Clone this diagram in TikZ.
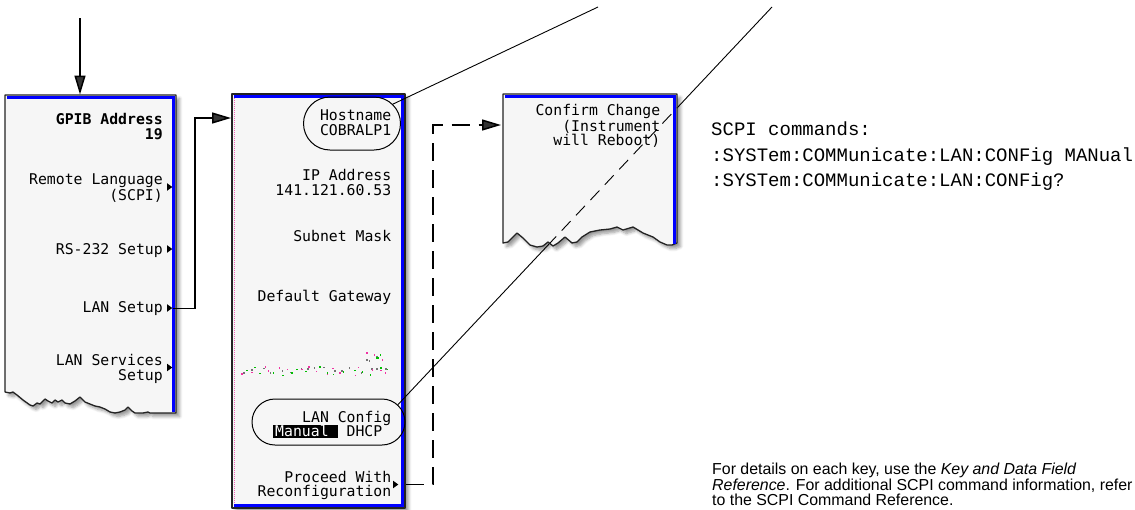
\documentclass[tikz,border=0pt]{standalone}
\usepackage{fontspec}
\setmainfont{Liberation Sans}
\newfontfamily\scrfont{DejaVu Sans Mono}
\newfontfamily\courfont{Liberation Mono}
\usetikzlibrary{arrows.meta,shapes.misc,shadows.blur}
\definecolor{panelbg}{RGB}{246,246,246}
\definecolor{scrblue}{RGB}{0,0,255}
\definecolor{frame}{RGB}{35,35,35}
\tikzset{
  panel/.style={fill=panelbg, draw=frame, line width=1.3pt, line join=round,
    blur shadow={shadow xshift=3.5pt, shadow yshift=-3.5pt, shadow blur steps=6, shadow blur radius=3pt}},
  blueline/.style={draw=scrblue, line width=2.2pt},
  skey/.style={font=\scrfont\fontsize{14.8}{14.3}\selectfont, anchor=base east, align=right, inner sep=0pt},
  skeyb/.style={font=\scrfont\bfseries\fontsize{14.8}{14.5}\selectfont, anchor=base east, align=right, inner sep=0pt},
  oval/.style={draw, rounded rectangle, line width=1pt, inner sep=0pt},
  conn/.style={line width=1.5pt, -{Triangle[length=19pt,width=11pt]}},
  dconn/.style={conn, dash pattern=on 18pt off 9pt},
  callout/.style={line width=0.9pt},
  softtri/.pic={\fill (-2.5,-3.8) -- (2.8,0) -- (-2.5,3.8) -- cycle;},
}
\begin{document}
\begin{tikzpicture}[x=1pt,y=-1pt]
\useasboundingbox (0,0) rectangle (1135,509);

% ---------- middle panel ----------
\path[panel] (232,94) rectangle (405,508);
\draw[blueline] (233.5,96.5) -- (402.5,96.5) -- (402.5,505.5) -- (233.5,505.5);
\draw[magenta!60, line width=0.8pt, dash pattern=on 1pt off 1pt] (234.3,98) -- (234.3,504);

% ---------- left panel ----------
\path[panel] (5,95) -- (176,95) -- (176,413) -- (150,413) -- (148,412) -- (143,413) -- (135,413)
  -- (132,411) -- (128,407) -- (125,410) -- (120,412) -- (115,413) -- (110,412) -- (105,409)
  -- (100,407) -- (95,406) -- (90,404) -- (85,402) -- (80,397) -- (75,401) -- (70,404)
  -- (65,403) -- (62,400) -- (58,402) -- (55,400) -- (52,403) -- (48,401) -- (45,399)
  -- (40,404) -- (37,403) -- (33,406) -- (30,405) -- (23,400) -- (17,395) -- (13,392)
  -- (10,393) -- (5,392) -- cycle;
\draw[blueline] (6.5,97.5) -- (173.5,97.5) -- (173.5,412);

% left panel keys (base = baseline of last line)
\node[skeyb] (gpib) at (163,139) {GPIB Address\\19};
\node[skey] (remote) at (163,200) {Remote Language\\(SCPI)};
\node[skey] (rs232) at (163,254) {RS-232 Setup};
\node[skey] (lansetup) at (163,312.7) {LAN Setup};
\node[skey] (lanserv) at (163,380) {LAN Services\\Setup};
\pic at (169.5,187) {softtri};
\pic at (169.5,249) {softtri};
\pic at (169.5,308) {softtri};
\pic at (169.5,367.5) {softtri};

% middle panel keys
\node[skey] (hostname) at (391.5,135) {Hostname\\COBRALP1};
\node[skey] (ipaddr) at (391.5,195) {IP Address\\141.121.60.53};
\node[skey] (subnet) at (391.5,241.7) {Subnet Mask};
\node[skey] (gateway) at (391.5,301) {Default Gateway};
\node[skey] (lanconfig) at (391.5,422.5) {LAN Config};
\node[skey, fill=black, text=white, anchor=base west, text width=65pt, align=left,
      text height=11.6pt, text depth=1.4pt] (manual) at (273,436.7) {\hspace{2pt}Manual};
\node[skey] (dhcp) at (382.5,436.7) {DHCP};
\node[skey] (proceed) at (391.5,496.7) {Proceed With\\Reconfiguration};
\pic at (395.5,484.5) {softtri};

% greyed-out (dotted) field
\pgfmathsetseed{11}
\foreach \col in {black!55,magenta!80,green!75!black}{
  \foreach \i in {0,...,16}{
    \fill[\col] ({241+\i*8.9+rnd*7},{366+rnd*9}) rectangle ++(1.5,1.5);
  }
  \foreach \k in {1,...,3}{
    \fill[\col] ({366+rnd*20},{352+rnd*9}) rectangle ++(1.5,1.5);
  }
}

% ovals
\node[oval, minimum width=97pt, minimum height=53pt] (hostoval) at (352,123.5) {};
\node[oval, minimum width=153pt, minimum height=46pt] (lanoval) at (328.5,422) {};

% ---------- callout lines ----------
\coordinate (c1) at (598,7);
\coordinate (c2) at (772,7);
\draw[callout] (hostoval) -- (c1);
\draw[callout] (c2) -- (lanoval.14);

% ---------- confirm panel ----------
\path[panel] (503,94) -- (677,94) -- (677,243) -- (672,245) -- (667,245) -- (660,242) -- (653,237)
  -- (643,233) -- (633,227) -- (623,230) -- (617,227) -- (610,229) -- (600,230) -- (590,232)
  -- (582,237) -- (577,242) -- (572,243) -- (565,237) -- (558,243) -- (553,246) -- (548,242)
  -- (543,246) -- (537,247) -- (530,245) -- (523,238) -- (517,233) -- (508,242) -- (503,243) -- cycle;
\draw[blueline] (504.5,96.5) -- (674.5,96.5) -- (674.5,244);
\node[skey] (confirm) at (660.5,145.7) {Confirm Change\\(Instrument\\will Reboot)};
\begin{scope}
  \clip (503,94) -- (677,94) -- (677,243) -- (672,245) -- (667,245) -- (660,242) -- (653,237)
  -- (643,233) -- (633,227) -- (623,230) -- (617,227) -- (610,229) -- (600,230) -- (590,232)
  -- (582,237) -- (577,242) -- (572,243) -- (565,237) -- (558,243) -- (553,246) -- (548,242)
  -- (543,246) -- (537,247) -- (530,245) -- (523,238) -- (517,233) -- (508,242) -- (503,243) -- cycle;
  \draw[callout, dash pattern=on 13pt off 8pt] (c2) -- (lanoval.14);
\end{scope}

% ---------- connectors ----------
\coordinate (topStart) at (80,18);
\coordinate (leftTop) at (80,94.5);
\draw[conn] (topStart) -- (leftTop);
\coordinate (lanTip) at (173,308.5);
\coordinate (midIn) at (231,118);
\draw[conn] (lanTip) -- ++(22,0) |- (midIn);
\coordinate (procOut) at (406,484.5);
\coordinate (confIn) at (501,125);
\draw[dconn] (procOut) -- ++(27,0) |- (confIn);

% ---------- text ----------
\node[anchor=base west, align=left, inner sep=0pt, font=\courfont\fontsize{19}{25.4}\selectfont]
  (scpi) at (711,186.7) {SCPI commands:\\:SYSTem:COMMunicate:LAN:CONFig MANual\\:SYSTem:COMMunicate:LAN:CONFig?};
\node[anchor=base west, align=left, inner sep=0pt, font=\fontsize{15.9}{14.2}\selectfont]
  (note) at (712,505) {For details on each key, use the \textit{Key and Data Field}\\\textit{Reference}. For additional SCPI command information, refer\\to the SCPI Command Reference.};
\end{tikzpicture}
\end{document}
